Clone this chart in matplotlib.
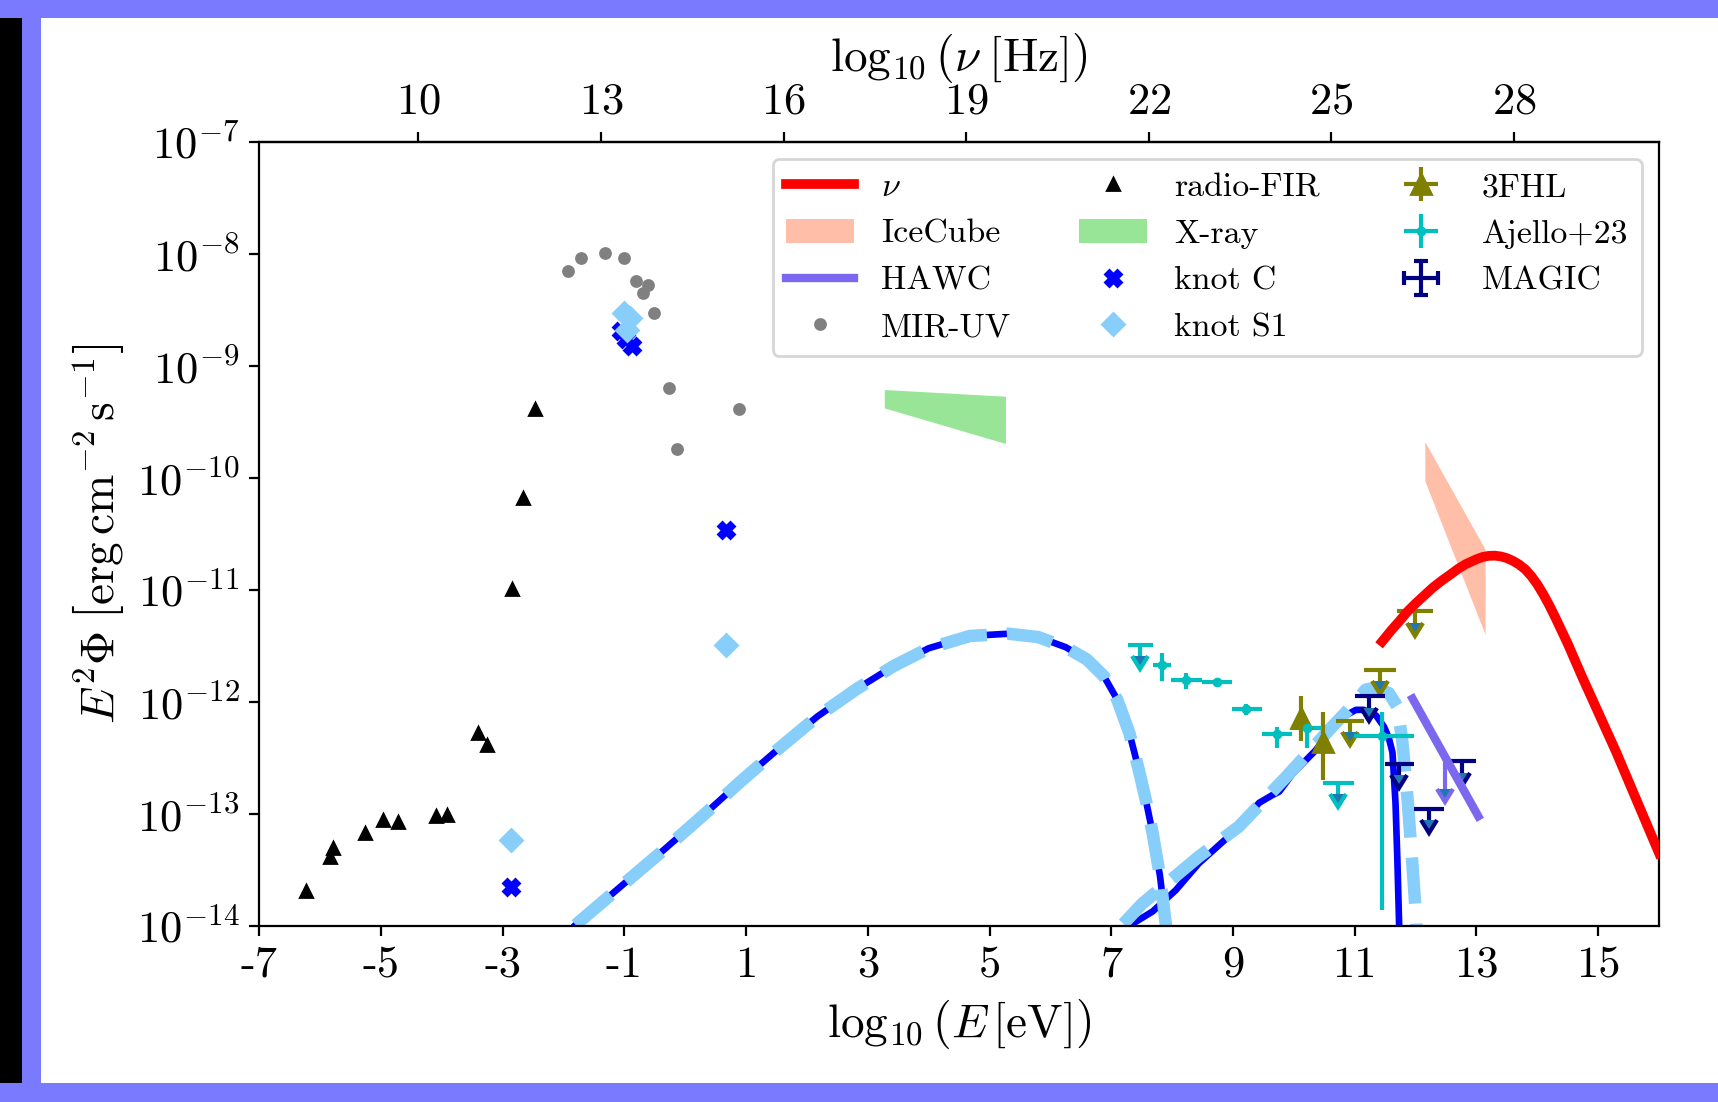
import numpy as np
import matplotlib
matplotlib.use("Agg")
import matplotlib.pyplot as plt
from matplotlib.patches import Rectangle
from matplotlib.ticker import FixedLocator, NullLocator

plt.rcParams['font.family'] = 'serif'
plt.rcParams['font.serif'] = ['cmr10']
plt.rcParams['mathtext.fontset'] = 'cm'
plt.rcParams['axes.formatter.use_mathtext'] = True
plt.rcParams['axes.unicode_minus'] = False

# log10(nu/Hz) = log10(E/eV) + log10(1/h)
NU_SHIFT = 14.383

# all fluxes below are log10(E^2 Phi / erg cm^-2 s^-1), energies log10(E/eV)

# neutrino model
nu_x = [11.45, 11.6, 11.73, 11.87, 12.0, 12.14, 12.28, 12.42, 12.55, 12.7, 12.82, 12.9, 13.0, 13.1,
        13.2, 13.3, 13.4, 13.5, 13.6, 13.7, 13.8, 13.9, 14.0, 14.1, 14.2, 14.3, 14.4, 14.5, 14.74,
        15.29, 16.0]
nu_y = [-11.46, -11.36, -11.28, -11.19, -11.12, -11.05, -10.98, -10.92, -10.87, -10.81, -10.77,
        -10.75, -10.725, -10.705, -10.695, -10.693, -10.70, -10.715, -10.74, -10.772, -10.815,
        -10.875, -10.95, -11.04, -11.14, -11.25, -11.365, -11.48, -11.78, -12.44, -13.35]

# synchrotron bump (same for both models)
sync_x = [-1.80, -1.0, -0.35, 0.30, 0.91, 1.55, 2.17, 2.80, 3.42, 4.0, 4.68, 5.31, 5.80, 6.25, 6.60,
          6.88, 7.10, 7.30, 7.45, 7.57, 7.68, 7.80, 7.90, 7.95]
sync_y = [-13.99, -13.62, -13.32, -13.01, -12.71, -12.41, -12.13, -11.89, -11.68, -11.52, -11.41, -11.39,
          -11.42, -11.51, -11.62, -11.77, -11.98, -12.28, -12.60, -12.88, -13.17, -13.55, -14.0, -14.3]

# inverse Compton bump, model A (solid) and model B (dashed)
ic_a_x = [7.29, 7.68, 8.06, 8.44, 8.99, 9.43, 9.65, 9.76, 9.98, 10.36, 10.63, 10.85, 11.02, 11.15,
          11.35, 11.48, 11.56, 11.62, 11.67, 11.70, 11.73, 11.75]
ic_a_y = [-14.0, -13.87, -13.68, -13.44, -13.17, -12.90, -12.83, -12.80, -12.64, -12.43, -12.24, -12.12,
          -12.07, -12.07, -12.12, -12.22, -12.32, -12.45, -12.90, -13.40, -14.0, -14.3]
ic_b_x = [7.20, 7.51, 8.11, 8.44, 9.1, 9.87, 10.63, 10.91, 11.18, 11.35, 11.56, 11.70, 11.78, 11.87,
          11.95, 12.0, 12.03]
ic_b_y = [-13.98, -13.80, -13.53, -13.38, -13.11, -12.67, -12.22, -12.06, -11.89, -11.87, -11.92, -12.04,
          -12.34, -12.875, -13.47, -13.86, -14.2]

# photometry
radio_x = [-6.225, -5.84, -5.79, -5.26, -4.97, -4.715, -4.09, -3.91, -3.40, -3.25, -2.85, -2.67, -2.47]
radio_y = [-13.69, -13.38, -13.30, -13.17, -13.05, -13.07, -13.02, -13.01, -12.28, -12.38, -10.99, -10.18, -9.38]
mir_x = [-1.925, -1.705, -1.32, -0.998, -0.81, -0.61, -0.69, -0.506, -0.264, -0.138, 0.886]
mir_y = [-8.149, -8.036, -7.99, -8.036, -8.244, -8.28, -8.35, -8.53, -9.20, -9.74, -9.384]
knotc_x = [-2.865, -1.05, -0.98, -0.88, 0.667]
knotc_y = [-13.65, -8.69, -8.76, -8.82, -10.46]
knots1_x = [-2.865, -1.00, -0.90, -0.95, 0.667]
knots1_y = [-13.23, -8.53, -8.57, -8.68, -11.49]

# X-ray and IceCube bow-ties (corner points)
xray_x = [3.28, 5.27, 5.27, 3.28]
xray_y = [-9.214, -9.274, -9.696, -9.378]
icecube_x = [12.16, 13.15, 13.15, 12.16]
icecube_y = [-9.68, -10.64, -11.40, -10.03]

# HAWC power law and its upper-limit arrow
hawc_x = [11.95, 13.03]
hawc_y = [-11.97, -13.02]
hawc_ul_x = [12.48]
hawc_ul_y = [-12.52]

# 3FHL
fhl_x = [10.12, 10.48]
fhl_y = [-12.14, -12.36]
fhl_ylo = [-12.35, -12.70]
fhl_yhi = [-11.95, -12.09]
fhl_ul_x = [10.92, 11.42, 11.99]
fhl_ul_xlo = [10.69, 11.15, 11.69]
fhl_ul_xhi = [11.15, 11.67, 12.29]
fhl_ul_y = [-12.17, -11.71, -11.19]

# Ajello+23
aj_x = [7.83, 8.23, 8.73, 9.22, 9.73, 10.22, 11.45]
aj_xlo = [7.69, 7.98, 8.49, 8.98, 9.48, 9.97, 10.99]
aj_xhi = [7.98, 8.49, 8.98, 9.48, 9.97, 10.46, 11.98]
aj_y = [-11.67, -11.80, -11.82, -12.06, -12.29, -12.23, -12.30]
aj_ylo = [-11.81, -11.88, -11.85, -12.12, -12.41, -12.41, -13.86]
aj_yhi = [-11.565, -11.74, -11.79, -12.02, -12.22, -12.19, -12.09]
aj_ul_x = [7.48, 10.73]
aj_ul_xlo = [7.28, 10.48]
aj_ul_xhi = [7.69, 10.99]
aj_ul_y = [-11.49, -12.72]

# MAGIC upper limits
magic_x = [11.24, 11.73, 12.22, 12.77]
magic_xlo = [11.0, 11.49, 11.98, 12.55]
magic_xhi = [11.49, 11.98, 12.47, 12.99]
magic_y = [-11.95, -12.55, -12.955, -12.53]


def p(v):
    return 10.0 ** np.asarray(v, dtype=float)


def upper_limits(ax, x, y, color, xlo=None, xhi=None, drop=0.1):
    x = np.asarray(x)
    f = p(y)
    xerr = None if xlo is None else [x - np.asarray(xlo), np.asarray(xhi) - x]
    eb = ax.errorbar(x, f, xerr=xerr, yerr=f * (1 - 10 ** -drop), uplims=True,
                     fmt='none', ecolor=color, elinewidth=1.5, capsize=0)
    for cl in eb[1]:
        cl.set_markersize(6)
        cl.set_markeredgewidth(1.5)
    return eb


fig = plt.figure(figsize=(8.59, 5.51), dpi=200)
fig.patch.set_facecolor('white')
ax = fig.add_axes([0.1508, 0.1597, 0.8149, 0.7114])

border = '#7a7aff'
for r in [(0, 0, 22 / 1718, 1, 'black'),
          (22 / 1718, 0, 19 / 1718, 1, border),
          (0, 1 - 18 / 1102, 1, 18 / 1102, border),
          (0, 0, 1, 19 / 1102, border)]:
    fig.add_artist(Rectangle(r[:2], r[2], r[3], transform=fig.transFigure,
                             facecolor=r[4], edgecolor='none', zorder=-5))

# bow-ties
h_ice = ax.fill(icecube_x, p(icecube_y), color='coral', alpha=0.5, lw=0, zorder=1)[0]
h_xray = ax.fill(xray_x, p(xray_y), color='limegreen', alpha=0.5, lw=0, zorder=1)[0]

# models
h_nu, = ax.plot(nu_x, p(nu_y), color='red', lw=3.5, zorder=3, solid_joinstyle='round')
ax.plot(sync_x, p(sync_y), color='blue', lw=2.4, zorder=2, solid_joinstyle='round')
ax.plot(ic_a_x, p(ic_a_y), color='blue', lw=2.4, zorder=2, solid_joinstyle='round')
ax.plot(sync_x, p(sync_y), color='lightskyblue', lw=4.5, ls='--', zorder=2)
ax.plot(ic_b_x, p(ic_b_y), color='lightskyblue', lw=4.5, ls='--', zorder=2)

h_hawc, = ax.plot(hawc_x, p(hawc_y), color='mediumslateblue', lw=3, zorder=3)
upper_limits(ax, hawc_ul_x, hawc_ul_y, 'mediumslateblue', drop=0.26)

# photometry
h_radio, = ax.plot(radio_x, p(radio_y), ls='none', marker='^', ms=4, color='black')
h_mir, = ax.plot(mir_x, p(mir_y), ls='none', marker='o', ms=3.6, color='gray')
h_s1, = ax.plot(knots1_x, p(knots1_y), ls='none', marker='D', ms=5.5, color='lightskyblue', zorder=3)
h_c, = ax.plot(knotc_x, p(knotc_y), ls='none', marker='X', ms=5.5, color='blue', zorder=2.5)

# gamma-ray data
fy = p(fhl_y)
h_fhl = ax.errorbar(fhl_x, fy, xerr=np.zeros(len(fhl_x)),
                    yerr=[fy - p(fhl_ylo), p(fhl_yhi) - fy],
                    fmt='^', ms=7, color='olive', elinewidth=1.5, capsize=0)
upper_limits(ax, fhl_ul_x, fhl_ul_y, 'olive', fhl_ul_xlo, fhl_ul_xhi)

ay = p(aj_y)
ax_c = np.asarray(aj_x)
h_aj = ax.errorbar(aj_x, ay, xerr=[ax_c - np.asarray(aj_xlo), np.asarray(aj_xhi) - ax_c],
                   yerr=[ay - p(aj_ylo), p(aj_yhi) - ay],
                   fmt='o', ms=2.5, color='c', elinewidth=1.5, capsize=0)
upper_limits(ax, aj_ul_x, aj_ul_y, 'c', aj_ul_xlo, aj_ul_xhi)

upper_limits(ax, magic_x, magic_y, 'navy', magic_xlo, magic_xhi)
h_magic = ax.errorbar([np.nan], [np.nan], xerr=[0.1], yerr=[0.1], fmt='none',
                      ecolor='navy', elinewidth=1.5, capsize=2.5, capthick=1.5)

ax.set_xlim(-7, 16)
ax.set_yscale('log')
ax.set_ylim(1e-14, 1e-7)
ax.yaxis.set_minor_locator(NullLocator())
ax.xaxis.set_major_locator(FixedLocator(np.arange(-7, 16, 2)))
ax.set_xticklabels([str(v) for v in range(-7, 16, 2)])
ax.tick_params(labelsize=16)

ax.set_xlabel(r'$\log_{10}\left(E\,[\mathrm{eV}]\right)$', fontsize=17)
ax.set_ylabel(r'$E^2\Phi\;\left[\mathrm{erg\,cm^{-2}\,s^{-1}}\right]$', fontsize=17)

secax = ax.secondary_xaxis('top', functions=(lambda e: e + NU_SHIFT, lambda n: n - NU_SHIFT))
secax.set_xticks([10, 13, 16, 19, 22, 25, 28])
secax.tick_params(labelsize=16)
secax.set_xlabel(r'$\log_{10}\left(\nu\;[\mathrm{Hz}]\right)$', fontsize=17)

handles = [h_nu, h_ice, h_hawc, h_mir, h_radio, h_xray, h_c, h_s1, h_fhl, h_aj, h_magic]
labels = [r'$\nu$', 'IceCube', 'HAWC', 'MIR-UV', 'radio-FIR', 'X-ray', 'knot C', 'knot S1',
          '3FHL', 'Ajello+23', 'MAGIC']
ax.legend(handles, labels, loc='upper right', ncol=3, fontsize=12.2)

fig.savefig('out.png', dpi=200)
